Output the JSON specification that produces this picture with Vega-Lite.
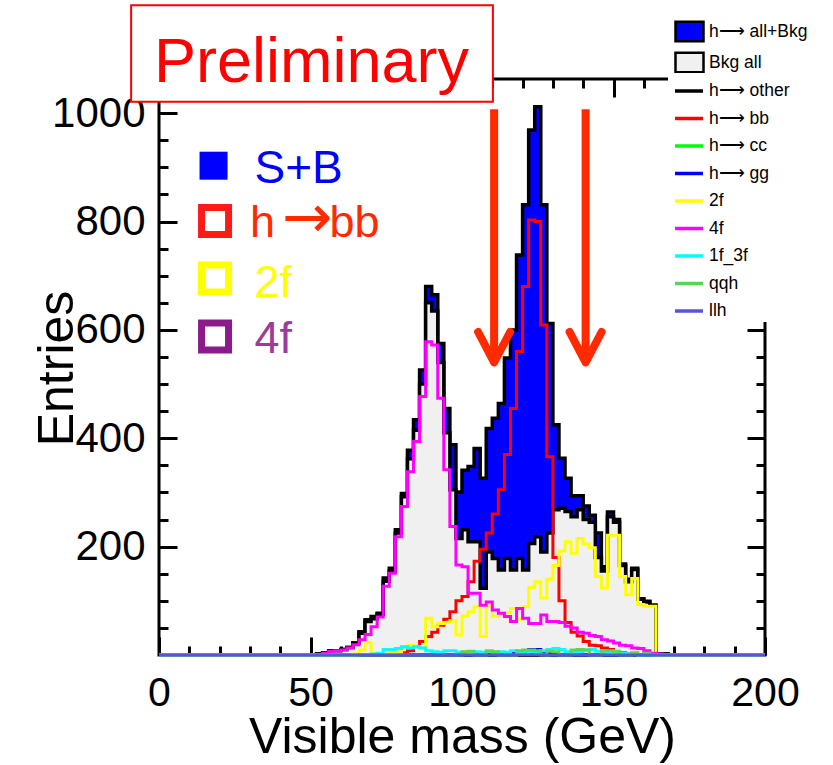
{
  "$schema": "https://vega.github.io/schema/vega-lite/v6.json",
  "width": 606,
  "height": 576,
  "autosize": {"type": "none"},
  "padding": {"left": 159, "top": 79, "right": 68, "bottom": 110},
  "background": "white",
  "config": {"view": {"stroke": "black", "strokeWidth": 3}, "font": "Liberation Sans"},
  "resolve": {"axis": {"x": "independent", "y": "independent"}},
  "datasets": {
    "hist": [
      {"m":0,"T":0,"B":0,"oth":0,"bb":0,"cc":0,"gg":0,"f2":0,"f4":0,"f13":0,"qqh":0,"llh":0},
      {"m":50,"T":0,"B":0,"oth":0,"bb":0,"cc":0,"gg":0,"f2":0,"f4":0,"f13":0,"qqh":0,"llh":0},
      {"m":52,"T":2,"B":2,"oth":0,"bb":0,"cc":0,"gg":0,"f2":0,"f4":1,"f13":0,"qqh":0,"llh":0},
      {"m":54,"T":4,"B":4,"oth":0,"bb":0,"cc":0,"gg":0,"f2":0,"f4":3,"f13":0,"qqh":0,"llh":0},
      {"m":56,"T":8,"B":8,"oth":0,"bb":0,"cc":0,"gg":0,"f2":0,"f4":7,"f13":0,"qqh":0,"llh":0},
      {"m":58,"T":8,"B":8,"oth":0,"bb":0,"cc":0,"gg":0,"f2":0,"f4":8,"f13":0,"qqh":0,"llh":0},
      {"m":60,"T":10,"B":10,"oth":0,"bb":0,"cc":0,"gg":0,"f2":0,"f4":9,"f13":0,"qqh":0,"llh":0},
      {"m":62,"T":14,"B":14,"oth":0,"bb":0,"cc":0,"gg":0,"f2":0,"f4":13,"f13":0,"qqh":0,"llh":0},
      {"m":64,"T":22,"B":22,"oth":0,"bb":0,"cc":0,"gg":0,"f2":2,"f4":19,"f13":0,"qqh":0,"llh":0},
      {"m":66,"T":43,"B":40,"oth":0,"bb":0,"cc":0,"gg":0,"f2":9,"f4":28,"f13":1,"qqh":0,"llh":0},
      {"m":68,"T":65,"B":62,"oth":0,"bb":0,"cc":0,"gg":0,"f2":23,"f4":38,"f13":1,"qqh":0,"llh":0},
      {"m":70,"T":71,"B":67,"oth":0,"bb":0,"cc":0,"gg":0,"f2":3,"f4":52,"f13":2,"qqh":0,"llh":0},
      {"m":72,"T":77,"B":75,"oth":0,"bb":0,"cc":0,"gg":0,"f2":2,"f4":70,"f13":3,"qqh":0,"llh":0},
      {"m":74,"T":142,"B":136,"oth":0,"bb":0,"cc":0,"gg":0,"f2":2,"f4":127,"f13":10,"qqh":0,"llh":0},
      {"m":76,"T":160,"B":155,"oth":0,"bb":0,"cc":0,"gg":0,"f2":3,"f4":151,"f13":10,"qqh":0,"llh":0},
      {"m":78,"T":231,"B":225,"oth":0,"bb":2,"cc":0,"gg":0,"f2":5,"f4":218,"f13":12,"qqh":0,"llh":0},
      {"m":80,"T":298,"B":292,"oth":0,"bb":4,"cc":0,"gg":0,"f2":15,"f4":274,"f13":15,"qqh":0,"llh":0},
      {"m":82,"T":378,"B":362,"oth":0,"bb":8,"cc":0,"gg":0,"f2":18,"f4":338,"f13":13,"qqh":0,"llh":0},
      {"m":84,"T":434,"B":415,"oth":0,"bb":15,"cc":0,"gg":0,"f2":15,"f4":394,"f13":15,"qqh":0,"llh":0},
      {"m":86,"T":526,"B":500,"oth":0,"bb":25,"cc":0,"gg":0,"f2":12,"f4":477,"f13":13,"qqh":0,"llh":0},
      {"m":88,"T":680,"B":650,"oth":0,"bb":34,"cc":0,"gg":0,"f2":68,"f4":578,"f13":8,"qqh":0,"llh":0},
      {"m":90,"T":665,"B":635,"oth":0,"bb":42,"cc":0,"gg":0,"f2":52,"f4":572,"f13":6,"qqh":0,"llh":0},
      {"m":92,"T":575,"B":540,"oth":0,"bb":55,"cc":0,"gg":0,"f2":58,"f4":474,"f13":5,"qqh":0,"llh":0},
      {"m":94,"T":455,"B":410,"oth":0,"bb":66,"cc":0,"gg":0,"f2":60,"f4":342,"f13":8,"qqh":0,"llh":0},
      {"m":96,"T":388,"B":305,"oth":0,"bb":80,"cc":0,"gg":0,"f2":63,"f4":237,"f13":8,"qqh":0,"llh":0},
      {"m":98,"T":301,"B":215,"oth":0,"bb":100,"cc":0,"gg":0,"f2":37,"f4":166,"f13":5,"qqh":0,"llh":0},
      {"m":100,"T":341,"B":231,"oth":0,"bb":108,"cc":0,"gg":0,"f2":72,"f4":163,"f13":5,"qqh":6,"llh":0},
      {"m":102,"T":348,"B":209,"oth":0,"bb":135,"cc":0,"gg":0,"f2":80,"f4":114,"f13":4,"qqh":7,"llh":0},
      {"m":104,"T":381,"B":209,"oth":0,"bb":173,"cc":0,"gg":0,"f2":89,"f4":114,"f13":6,"qqh":0,"llh":0},
      {"m":106,"T":326,"B":123,"oth":0,"bb":195,"cc":0,"gg":0,"f2":34,"f4":92,"f13":5,"qqh":0,"llh":0},
      {"m":108,"T":418,"B":190,"oth":0,"bb":225,"cc":0,"gg":0,"f2":90,"f4":98,"f13":8,"qqh":7,"llh":0},
      {"m":110,"T":437,"B":178,"oth":0,"bb":260,"cc":0,"gg":0,"f2":71,"f4":83,"f13":5,"qqh":6,"llh":0},
      {"m":112,"T":464,"B":157,"oth":0,"bb":305,"cc":0,"gg":0,"f2":75,"f4":77,"f13":6,"qqh":0,"llh":0},
      {"m":114,"T":548,"B":178,"oth":0,"bb":370,"cc":0,"gg":0,"f2":78,"f4":71,"f13":5,"qqh":0,"llh":0},
      {"m":116,"T":600,"B":157,"oth":2,"bb":455,"cc":0,"gg":3,"f2":86,"f4":62,"f13":8,"qqh":0,"llh":0},
      {"m":118,"T":738,"B":178,"oth":3,"bb":560,"cc":2,"gg":5,"f2":66,"f4":86,"f13":5,"qqh":8,"llh":0},
      {"m":120,"T":831,"B":157,"oth":4,"bb":680,"cc":4,"gg":8,"f2":89,"f4":68,"f13":7,"qqh":9,"llh":0},
      {"m":122,"T":969,"B":206,"oth":6,"bb":803,"cc":6,"gg":10,"f2":125,"f4":58,"f13":6,"qqh":9,"llh":0},
      {"m":124,"T":1012,"B":218,"oth":6,"bb":800,"cc":6,"gg":10,"f2":135,"f4":58,"f13":5,"qqh":8,"llh":0},
      {"m":126,"T":831,"B":190,"oth":4,"bb":609,"cc":4,"gg":6,"f2":105,"f4":74,"f13":8,"qqh":0,"llh":0},
      {"m":128,"T":612,"B":225,"oth":2,"bb":366,"cc":0,"gg":3,"f2":140,"f4":62,"f13":10,"qqh":7,"llh":0},
      {"m":130,"T":425,"B":268,"oth":0,"bb":180,"cc":0,"gg":0,"f2":165,"f4":62,"f13":12,"qqh":6,"llh":0},
      {"m":132,"T":363,"B":271,"oth":0,"bb":100,"cc":0,"gg":0,"f2":192,"f4":60,"f13":10,"qqh":0,"llh":0},
      {"m":134,"T":326,"B":265,"oth":0,"bb":60,"cc":0,"gg":0,"f2":209,"f4":53,"f13":6,"qqh":0,"llh":0},
      {"m":136,"T":294,"B":255,"oth":0,"bb":42,"cc":0,"gg":0,"f2":188,"f4":50,"f13":5,"qqh":9,"llh":0},
      {"m":138,"T":294,"B":268,"oth":0,"bb":35,"cc":0,"gg":0,"f2":215,"f4":42,"f13":6,"qqh":10,"llh":0},
      {"m":140,"T":275,"B":250,"oth":0,"bb":25,"cc":0,"gg":0,"f2":205,"f4":40,"f13":9,"qqh":9,"llh":0},
      {"m":142,"T":258,"B":245,"oth":0,"bb":18,"cc":0,"gg":0,"f2":198,"f4":36,"f13":10,"qqh":0,"llh":0},
      {"m":144,"T":225,"B":180,"oth":0,"bb":17,"cc":0,"gg":0,"f2":145,"f4":34,"f13":7,"qqh":0,"llh":0},
      {"m":146,"T":163,"B":155,"oth":0,"bb":13,"cc":0,"gg":0,"f2":123,"f4":28,"f13":5,"qqh":8,"llh":0},
      {"m":148,"T":264,"B":255,"oth":0,"bb":10,"cc":0,"gg":0,"f2":221,"f4":26,"f13":4,"qqh":8,"llh":0},
      {"m":150,"T":250,"B":245,"oth":0,"bb":6,"cc":0,"gg":0,"f2":221,"f4":22,"f13":3,"qqh":7,"llh":0},
      {"m":152,"T":168,"B":165,"oth":0,"bb":4,"cc":0,"gg":0,"f2":145,"f4":18,"f13":3,"qqh":0,"llh":0},
      {"m":154,"T":140,"B":135,"oth":0,"bb":2,"cc":0,"gg":0,"f2":111,"f4":17,"f13":2,"qqh":0,"llh":0},
      {"m":156,"T":160,"B":158,"oth":0,"bb":0,"cc":0,"gg":0,"f2":141,"f4":13,"f13":2,"qqh":4,"llh":0},
      {"m":158,"T":104,"B":103,"oth":0,"bb":0,"cc":0,"gg":0,"f2":93,"f4":12,"f13":0,"qqh":0,"llh":0},
      {"m":160,"T":99,"B":98,"oth":0,"bb":0,"cc":0,"gg":0,"f2":90,"f4":8,"f13":0,"qqh":3,"llh":0},
      {"m":162,"T":92,"B":92,"oth":0,"bb":0,"cc":0,"gg":0,"f2":90,"f4":3,"f13":0,"qqh":0,"llh":0},
      {"m":164,"T":2,"B":2,"oth":0,"bb":0,"cc":0,"gg":0,"f2":0,"f4":2,"f13":0,"qqh":0,"llh":0},
      {"m":166,"T":2,"B":2,"oth":0,"bb":0,"cc":0,"gg":0,"f2":0,"f4":0,"f13":0,"qqh":0,"llh":0},
      {"m":168,"T":0,"B":0,"oth":0,"bb":0,"cc":0,"gg":0,"f2":0,"f4":0,"f13":0,"qqh":0,"llh":0},
      {"m":200,"T":0,"B":0,"oth":0,"bb":0,"cc":0,"gg":0,"f2":0,"f4":0,"f13":0,"qqh":0,"llh":0}
    ]
  },
  "layer": [
    {
      "data": {"name": "hist"},
      "transform": [{"fold": ["T"], "as": ["series", "n"]}],
      "mark": {"type": "area", "interpolate": "step-after", "stroke": "black", "strokeWidth": 3.5},
      "encoding": {
        "x": {"field": "m", "type": "quantitative", "scale": {"domain": [0, 200], "nice": false, "zero": false},
          "axis": {"orient": "bottom", "values": [0, 50, 100, 150, 200], "format": "d", "ticks": false, "domain": false, "grid": false,
            "labelFont": "Liberation Sans", "labelFontSize": 41, "labelColor": "black", "labelBaseline": "alphabetic", "labelPadding": 50,
            "labelFlush": false, "labelOverlap": false, "labelBound": false,
            "title": "Visible mass (GeV)", "titleFont": "Liberation Sans", "titleFontSize": 50, "titleFontWeight": "normal", "titleColor": "black",
            "titleBaseline": "alphabetic", "titleX": 303, "titleY": 97, "titleAlign": "center"}},
        "y": {"field": "n", "type": "quantitative", "stack": null, "scale": {"domain": [0, 1063], "nice": false, "zero": false},
          "axis": {"orient": "left", "values": [200, 400, 600, 800, 1000], "format": "d", "ticks": false, "domain": false, "grid": false,
            "labelFont": "Liberation Sans", "labelFontSize": 42, "labelColor": "black", "labelAlign": "right", "labelBaseline": "middle", "labelPadding": 14,
            "labelFlush": false, "labelOverlap": false, "labelBound": false,
            "title": "Entries", "titleFont": "Liberation Sans", "titleFontSize": 50, "titleFontWeight": "normal", "titleColor": "black",
            "titleBaseline": "alphabetic", "titleAngle": -90, "titleX": -87, "titleY": 289, "titleAlign": "center"}},
        "fill": {"field": "series", "type": "nominal", "scale": {"domain": ["T", "B"], "range": ["#0000ff", "#f0f0f0"]},
          "legend": {"orient": "none", "legendX": 509, "legendY": -66, "title": null,
            "labelExpr": "datum.label == 'T' ? 'h⟶ all+Bkg' : 'Bkg all'",
            "labelFont": "Liberation Sans", "labelFontSize": 17.5, "labelColor": "black", "labelOffset": 4, "labelLimit": 300,
            "symbolType": "M-1,-0.7H1V0.7H-1Z", "symbolSize": 784, "symbolStrokeColor": "black", "symbolStrokeWidth": 2.5, "symbolOffset": 3,
            "fillColor": "white", "padding": 3, "rowPadding": -3,
            "encode": {"symbols": {"update": {"stroke": {"value": "black"}, "strokeWidth": {"value": 2.5}}}}}}
      }
    },
    {
      "data": {"name": "hist"},
      "transform": [{"fold": ["B"], "as": ["series", "n"]}],
      "mark": {"type": "area", "interpolate": "step-after", "stroke": "black", "strokeWidth": 3.5},
      "encoding": {
        "x": {"field": "m", "type": "quantitative", "scale": {"domain": [0, 200], "nice": false, "zero": false},
          "axis": {"orient": "bottom", "offset": -18, "values": [0, 50, 100, 150, 200], "labels": false, "domain": false, "grid": false, "ticks": true, "tickSize": 18, "tickWidth": 3, "tickColor": "black", "title": null}},
        "y": {"field": "n", "type": "quantitative", "stack": null, "scale": {"domain": [0, 1063], "nice": false, "zero": false},
          "axis": {"orient": "left", "offset": -18, "values": [200, 400, 600, 800, 1000], "labels": false, "domain": false, "grid": false, "ticks": true, "tickSize": 18, "tickWidth": 3, "tickColor": "black", "title": null}},
        "fill": {"field": "series", "type": "nominal", "scale": {"domain": ["T", "B"], "range": ["#0000ff", "#f0f0f0"]}}
      }
    },
    {
      "data": {"name": "hist"},
      "transform": [{"fold": ["oth", "bb", "cc", "gg", "f2", "f4", "f13", "qqh", "llh"], "as": ["series", "n"]}],
      "mark": {"type": "line", "interpolate": "step-after", "strokeWidth": 3},
      "encoding": {
        "x": {"field": "m", "type": "quantitative", "scale": {"domain": [0, 200], "nice": false, "zero": false},
          "axis": {"orient": "bottom", "offset": -9, "values": [10, 20, 30, 40, 60, 70, 80, 90, 110, 120, 130, 140, 160, 170, 180, 190], "labels": false, "domain": false, "grid": false, "ticks": true, "tickSize": 9, "tickWidth": 3, "tickColor": "black", "title": null}},
        "y": {"field": "n", "type": "quantitative", "scale": {"domain": [0, 1063], "nice": false, "zero": false},
          "axis": {"orient": "left", "offset": -9, "values": [50, 100, 150, 250, 300, 350, 450, 500, 550, 650, 700, 750, 850, 900, 950, 1050], "labels": false, "domain": false, "grid": false, "ticks": true, "tickSize": 9, "tickWidth": 3, "tickColor": "black", "title": null}},
        "stroke": {"field": "series", "type": "nominal",
          "scale": {"domain": ["oth", "bb", "cc", "gg", "f2", "f4", "f13", "qqh", "llh"],
            "range": ["#000000", "#ff0000", "#00ff00", "#0000ff", "#ffff00", "#ff00ff", "#00ffff", "#59d454", "#5954d8"]},
          "legend": {"orient": "none", "legendX": 509, "legendY": -6, "title": null,
            "labelExpr": "datum.label == 'oth' ? 'h⟶ other' : datum.label == 'bb' ? 'h⟶ bb' : datum.label == 'cc' ? 'h⟶ cc' : datum.label == 'gg' ? 'h⟶ gg' : datum.label == 'f2' ? '2f' : datum.label == 'f4' ? '4f' : datum.label == 'f13' ? '1f_3f' : datum.label",
            "labelFont": "Liberation Sans", "labelFontSize": 17.5, "labelColor": "black", "labelOffset": 4, "labelLimit": 300,
            "symbolType": "stroke", "symbolSize": 784, "symbolStrokeWidth": 3.5, "symbolOffset": 3,
            "fillColor": "white", "padding": 2, "rowPadding": 2.5}}
      }
    },
    {
      "data": {"values": [{"cut": 110.6}, {"cut": 140.8}]},
      "mark": {"type": "rule", "color": "#ff2a00", "strokeWidth": 8},
      "encoding": {
        "x": {"field": "cut", "type": "quantitative", "scale": {"domain": [0, 200], "nice": false, "zero": false},
          "axis": {"orient": "top", "offset": -18, "values": [0, 50, 100, 150, 200], "labels": false, "domain": false, "grid": false, "ticks": true, "tickSize": 18, "tickWidth": 3, "tickColor": "black", "title": null}},
        "y": {"datum": 1007, "scale": {"domain": [0, 1063], "nice": false, "zero": false},
          "axis": {"orient": "right", "offset": -18, "values": [200, 400, 600, 800, 1000], "labels": false, "domain": false, "grid": false, "ticks": true, "tickSize": 18, "tickWidth": 3, "tickColor": "black", "title": null}},
        "y2": {"datum": 548}
      }
    },
    {
      "data": {"values": [{"cut": 110.6}, {"cut": 140.8}]},
      "mark": {"type": "point", "shape": "M-1,-1.9L0,0L1,-1.9", "filled": false, "stroke": "#ff2a00", "strokeWidth": 8, "strokeCap": "round", "strokeJoin": "round", "size": 1024, "opacity": 1},
      "encoding": {
        "x": {"field": "cut", "type": "quantitative", "scale": {"domain": [0, 200], "nice": false, "zero": false},
          "axis": {"orient": "top", "offset": -9, "values": [10, 20, 30, 40, 60, 70, 80, 90, 110, 120, 130, 140, 160, 170, 180, 190], "labels": false, "domain": false, "grid": false, "ticks": true, "tickSize": 9, "tickWidth": 3, "tickColor": "black", "title": null}},
        "y": {"datum": 540, "scale": {"domain": [0, 1063], "nice": false, "zero": false},
          "axis": {"orient": "right", "offset": -9, "values": [50, 100, 150, 250, 300, 350, 450, 500, 550, 650, 700, 750, 850, 900, 950, 1050], "labels": false, "domain": false, "grid": false, "ticks": true, "tickSize": 9, "tickWidth": 3, "tickColor": "black", "title": null}}
      }
    },
    {
      "data": {"values": [{}]},
      "mark": {"type": "rect", "fill": "white", "stroke": "#ff0000", "strokeWidth": 2},
      "encoding": {
        "x": {"datum": -9.2, "axis": null}, "x2": {"datum": 110.2},
        "y": {"datum": 1199, "axis": null}, "y2": {"datum": 1021}
      }
    },
    {
      "data": {"values": [{"label": "Preliminary"}]},
      "mark": {"type": "text", "font": "Liberation Sans", "fontSize": 63, "color": "#ff0000", "align": "center", "baseline": "alphabetic"},
      "encoding": {"x": {"datum": 50.3, "axis": null}, "y": {"datum": 1057, "axis": null}, "text": {"field": "label"}}
    },
    {
      "data": {"values": [{}]},
      "mark": {"type": "point", "shape": "square", "filled": true, "fill": "#0000ff", "size": 784, "strokeWidth": 0, "opacity": 1},
      "encoding": {"x": {"datum": 18.0, "axis": null}, "y": {"datum": 903, "axis": null}}
    },
    {
      "data": {"values": [{}]},
      "mark": {"type": "point", "shape": "square", "filled": false, "stroke": "#ff1a1a", "size": 729, "strokeWidth": 7, "opacity": 1},
      "encoding": {"x": {"datum": 18.5, "axis": null}, "y": {"datum": 801, "axis": null}}
    },
    {
      "data": {"values": [{}]},
      "mark": {"type": "point", "shape": "square", "filled": false, "stroke": "#ffff00", "size": 729, "strokeWidth": 7, "opacity": 1},
      "encoding": {"x": {"datum": 18.5, "axis": null}, "y": {"datum": 695, "axis": null}}
    },
    {
      "data": {"values": [{}]},
      "mark": {"type": "point", "shape": "square", "filled": false, "stroke": "#8b1a8b", "size": 729, "strokeWidth": 7, "opacity": 1},
      "encoding": {"x": {"datum": 18.5, "axis": null}, "y": {"datum": 588, "axis": null}}
    },
    {
      "data": {"values": [{"label": "S+B"}]},
      "mark": {"type": "text", "font": "Liberation Sans", "fontSize": 46, "color": "#0000ff", "align": "left", "baseline": "alphabetic"},
      "encoding": {"x": {"datum": 31.5, "axis": null}, "y": {"datum": 871, "axis": null}, "text": {"field": "label"}}
    },
    {
      "data": {"values": [{"label": "h"}]},
      "mark": {"type": "text", "font": "Liberation Sans", "fontSize": 45, "color": "#ff2a00", "align": "left", "baseline": "alphabetic"},
      "encoding": {"x": {"datum": 30.0, "axis": null}, "y": {"datum": 771, "axis": null}, "text": {"field": "label"}}
    },
    {
      "data": {"values": [{"label": "→"}]},
      "mark": {"type": "text", "font": "DejaVu Sans", "fontSize": 60, "color": "#ff2a00", "align": "center", "baseline": "alphabetic"},
      "encoding": {"x": {"datum": 49.0, "axis": null}, "y": {"datum": 771, "axis": null}, "text": {"field": "label"}}
    },
    {
      "data": {"values": [{"label": "bb"}]},
      "mark": {"type": "text", "font": "Liberation Sans", "fontSize": 45, "color": "#ff2a00", "align": "left", "baseline": "alphabetic"},
      "encoding": {"x": {"datum": 56.3, "axis": null}, "y": {"datum": 771, "axis": null}, "text": {"field": "label"}}
    },
    {
      "data": {"values": [{"label": "2f"}]},
      "mark": {"type": "text", "font": "Liberation Sans", "fontSize": 45, "color": "#ffff00", "align": "left", "baseline": "alphabetic"},
      "encoding": {"x": {"datum": 31.5, "axis": null}, "y": {"datum": 661, "axis": null}, "text": {"field": "label"}}
    },
    {
      "data": {"values": [{"label": "4f"}]},
      "mark": {"type": "text", "font": "Liberation Sans", "fontSize": 45, "color": "#9b3c9b", "align": "left", "baseline": "alphabetic"},
      "encoding": {"x": {"datum": 31.5, "axis": null}, "y": {"datum": 557, "axis": null}, "text": {"field": "label"}}
    }
  ]
}
